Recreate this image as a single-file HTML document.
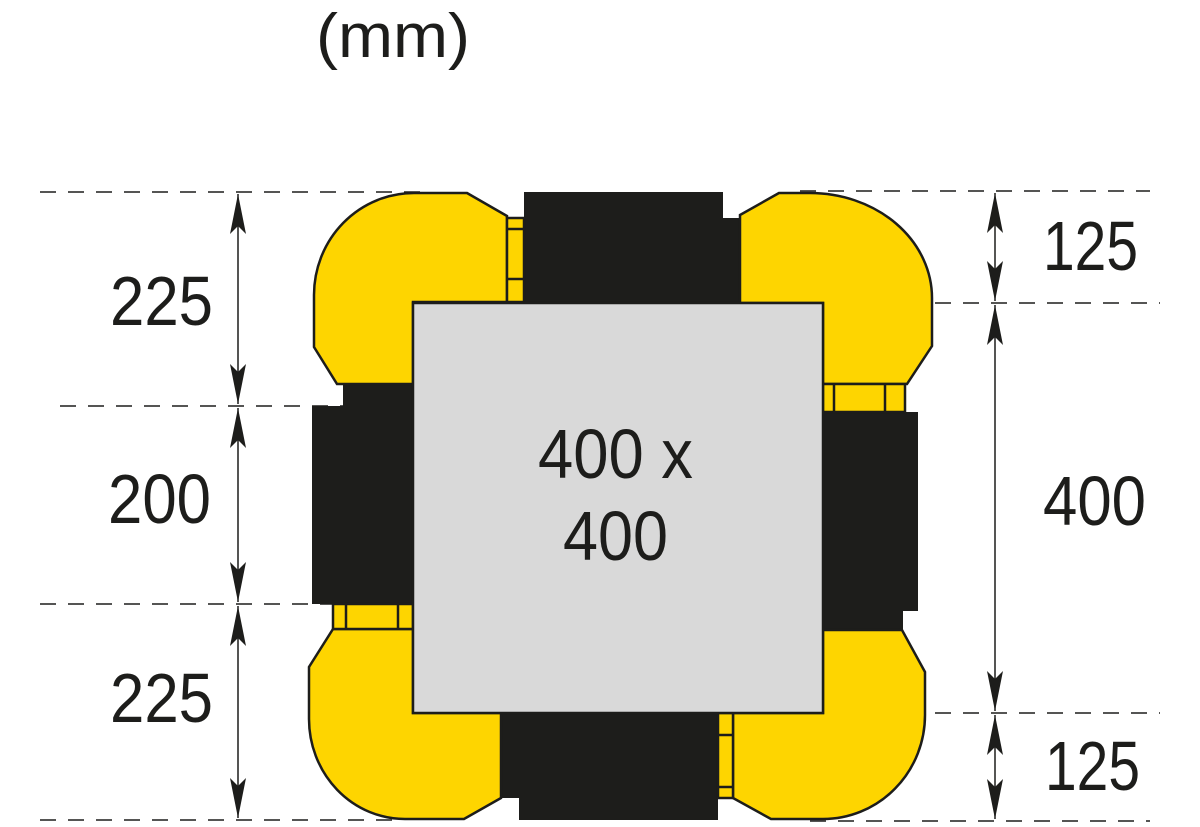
<!DOCTYPE html>
<html><head><meta charset="utf-8"><style>
html,body{margin:0;padding:0;background:#fff;}
svg{display:block;}
text{font-family:"Liberation Sans",sans-serif;fill:#1d1d1b;}
</style></head><body>
<svg width="1200" height="827" viewBox="0 0 1200 827" xmlns="http://www.w3.org/2000/svg">
<defs>
<marker id="a" viewBox="0 0 40 16" refX="40" refY="8" markerWidth="40" markerHeight="16" markerUnits="userSpaceOnUse" orient="auto-start-reverse">
<path d="M40,8 L0,0 L8,8 L0,16 Z" fill="#1d1d1b"/>
</marker>
</defs>
<g stroke="#1d1d1b" stroke-width="1.5" stroke-dasharray="16,12" fill="none">
<line x1="40" y1="192" x2="420" y2="192"/>
<line x1="800" y1="191" x2="1150" y2="191"/>
<line x1="60" y1="406" x2="343" y2="406"/>
<line x1="40" y1="604" x2="333" y2="604"/>
<line x1="40" y1="820" x2="400" y2="820"/>
<line x1="810" y1="821" x2="1150" y2="821"/>
<line x1="823" y1="303" x2="1160" y2="303"/>
<line x1="823" y1="713" x2="1160" y2="713"/>
</g>
<g fill="#1d1d1b">
<path d="M524,192 H723 V218 H740 V303 H524 Z"/>
<path d="M343,384 H413 V604 H312 V406 H343 Z"/>
<path d="M823,412 H918 V611 H903 V630 H823 Z"/>
<path d="M501,713 H718 V820 H519 V798 H501 Z"/>
</g>
<g fill="#fed500" stroke="#1d1d1b" stroke-width="2.5" stroke-linejoin="miter">
<path d="M467,193 L507,216 V302 H413 V384 H337 L314,347 V295 A100,102 0 0 1 414,193 Z"/>
<path d="M779,193 L740,215 V303 H823 V384 H907 L932,346 V298 A122,105 0 0 0 810,193 Z"/>
<path d="M333,629 H413 V713 H501 V798 L464,819 H405 A96,100 0 0 1 309,719 V667 Z"/>
<path d="M902,630 H823 V713 H733 V798 L771,819 H823 A102,104 0 0 0 925,715 V672 Z"/>
<rect x="507" y="218" width="17" height="84"/>
<line x1="507" y1="229" x2="524" y2="229"/>
<line x1="507" y1="279" x2="524" y2="279"/>
<rect x="823" y="384" width="82" height="28"/>
<line x1="834" y1="384" x2="834" y2="412"/>
<line x1="885" y1="384" x2="885" y2="412"/>
<rect x="333" y="604" width="80" height="25"/>
<line x1="346" y1="604" x2="346" y2="629"/>
<line x1="398" y1="604" x2="398" y2="629"/>
<rect x="718" y="713" width="15" height="85"/>
<line x1="718" y1="735" x2="733" y2="735"/>
<line x1="718" y1="787" x2="733" y2="787"/>
</g>
<rect x="413" y="303" width="410" height="410" fill="#d9d9d9" stroke="#1d1d1b" stroke-width="2.5"/>
<g stroke="#1d1d1b" stroke-width="1.5" marker-start="url(#a)" marker-end="url(#a)">
<line x1="238" y1="194" x2="238" y2="404"/>
<line x1="238" y1="408" x2="238" y2="602"/>
<line x1="238" y1="606" x2="238" y2="818"/>
<line x1="995" y1="193" x2="995" y2="301"/>
<line x1="995" y1="305" x2="995" y2="711"/>
<line x1="995" y1="715" x2="995" y2="819"/>
</g>
<g font-size="70">
<text x="110" y="325" textLength="103" lengthAdjust="spacingAndGlyphs">225</text>
<text x="108" y="523" textLength="103" lengthAdjust="spacingAndGlyphs">200</text>
<text x="110" y="722" textLength="103" lengthAdjust="spacingAndGlyphs">225</text>
<text x="1043" y="270" textLength="95" lengthAdjust="spacingAndGlyphs">125</text>
<text x="1043" y="525" textLength="103" lengthAdjust="spacingAndGlyphs">400</text>
<text x="1045" y="790" textLength="95" lengthAdjust="spacingAndGlyphs">125</text>
<text x="538" y="478" textLength="155" lengthAdjust="spacingAndGlyphs">400 x</text>
<text x="563" y="560" textLength="105" lengthAdjust="spacingAndGlyphs">400</text>
<text x="316" y="57" font-size="62" textLength="154" lengthAdjust="spacingAndGlyphs">(mm)</text>
</g>
</svg>
</body></html>
